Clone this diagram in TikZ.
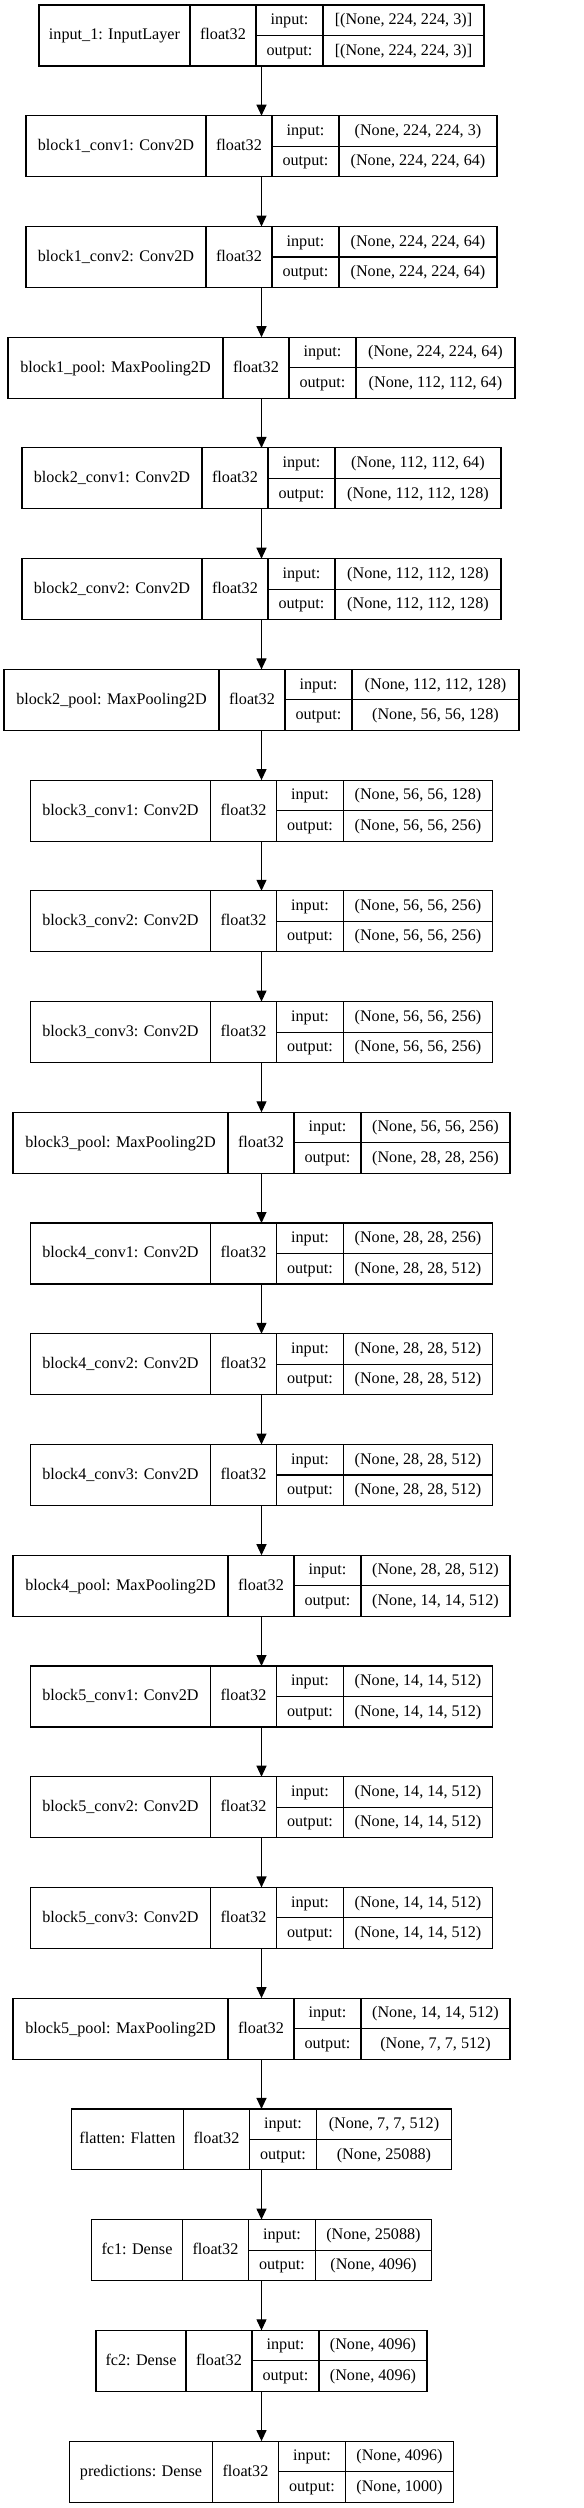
\documentclass[tikz,border=0pt]{standalone}
\usepackage{fontspec}
\setmainfont{Liberation Serif}
\usepackage{tikz}
\usepackage{tkz-graph}
\usetikzlibrary{positioning,arrows.meta}

\tikzset{
  layer/.style={rectangle, inner sep=0pt, outer sep=0pt, minimum height=1.22cm},
  cell/.style={draw, rectangle, line width=0.65pt, inner sep=0pt, outer sep=0pt,
    minimum height=0.61cm, text height=0.7em, text depth=0.2em,
    font=\fontsize{9.2pt}{11pt}\selectfont},
  EdgeStyle/.style={-{Triangle[length=0.22cm,width=0.2cm]}, line width=0.65pt}
}

% #1 node, #2 y, #3 label, #4 name width, #5 shape width, #6 input, #7 output
\newcommand{\Layer}[7]{%
  \node[layer, minimum width=(#4+133+#5)*0.02cm] (#1) at (261.5,#2) {};
  \node[cell, anchor=west, minimum width=#4*0.02cm, minimum height=1.22cm] (#1-n) at (#1.west) {#3};
  \node[cell, right=0pt of #1-n, minimum width=1.32cm, minimum height=1.22cm] (#1-t) {float32};
  \node[cell, anchor=north west, minimum width=1.34cm] (#1-i) at (#1-t.north east) {input:};
  \node[cell, below=0pt of #1-i, minimum width=1.34cm] (#1-o) {output:};
  \node[cell, right=0pt of #1-i, minimum width=#5*0.02cm] (#1-is) {#6};
  \node[cell, right=0pt of #1-o, minimum width=#5*0.02cm] (#1-os) {#7};
}

\begin{document}
\begin{tikzpicture}[x=0.02cm, y=-0.02cm]
    \useasboundingbox (0,0) rectangle (583,2508);

    \Layer{in1}{35.5}{input\_1: InputLayer}{151}{161}{[(None, 224, 224, 3)]}{[(None, 224, 224, 3)]}
    \Layer{c11}{146.2}{block1\_conv1: Conv2D}{180}{158}{(None, 224, 224, 3)}{(None, 224, 224, 64)}
    \Layer{c12}{257.0}{block1\_conv2: Conv2D}{180}{158}{(None, 224, 224, 64)}{(None, 224, 224, 64)}
    \Layer{p1}{367.7}{block1\_pool: MaxPooling2D}{215}{159}{(None, 224, 224, 64)}{(None, 112, 112, 64)}

    \Layer{c21}{478.4}{block2\_conv1: Conv2D}{180}{166}{(None, 112, 112, 64)}{(None, 112, 112, 128)}
    \Layer{c22}{589.2}{block2\_conv2: Conv2D}{180}{166}{(None, 112, 112, 128)}{(None, 112, 112, 128)}
    \Layer{p2}{699.9}{block2\_pool: MaxPooling2D}{215}{167}{(None, 112, 112, 128)}{(None, 56, 56, 128)}

    \Layer{c31}{810.6}{block3\_conv1: Conv2D}{180}{149}{(None, 56, 56, 128)}{(None, 56, 56, 256)}
    \Layer{c32}{921.3}{block3\_conv2: Conv2D}{180}{149}{(None, 56, 56, 256)}{(None, 56, 56, 256)}
    \Layer{c33}{1032.1}{block3\_conv3: Conv2D}{180}{149}{(None, 56, 56, 256)}{(None, 56, 56, 256)}
    \Layer{p3}{1142.8}{block3\_pool: MaxPooling2D}{215}{149}{(None, 56, 56, 256)}{(None, 28, 28, 256)}

    \Layer{c41}{1253.5}{block4\_conv1: Conv2D}{180}{149}{(None, 28, 28, 256)}{(None, 28, 28, 512)}
    \Layer{c42}{1364.3}{block4\_conv2: Conv2D}{180}{149}{(None, 28, 28, 512)}{(None, 28, 28, 512)}
    \Layer{c43}{1475.0}{block4\_conv3: Conv2D}{180}{149}{(None, 28, 28, 512)}{(None, 28, 28, 512)}
    \Layer{p4}{1585.7}{block4\_pool: MaxPooling2D}{215}{149}{(None, 28, 28, 512)}{(None, 14, 14, 512)}

    \Layer{c51}{1696.5}{block5\_conv1: Conv2D}{180}{149}{(None, 14, 14, 512)}{(None, 14, 14, 512)}
    \Layer{c52}{1807.2}{block5\_conv2: Conv2D}{180}{149}{(None, 14, 14, 512)}{(None, 14, 14, 512)}
    \Layer{c53}{1917.9}{block5\_conv3: Conv2D}{180}{149}{(None, 14, 14, 512)}{(None, 14, 14, 512)}
    \Layer{p5}{2028.6}{block5\_pool: MaxPooling2D}{215}{149}{(None, 14, 14, 512)}{(None, 7, 7, 512)}

    \Layer{flat}{2139.4}{flatten: Flatten}{112}{135}{(None, 7, 7, 512)}{(None, 25088)}
    \Layer{fc1}{2250.1}{fc1: Dense}{91}{116}{(None, 25088)}{(None, 4096)}
    \Layer{fc2}{2360.8}{fc2: Dense}{90}{108}{(None, 4096)}{(None, 4096)}
    \Layer{pred}{2471.6}{predictions: Dense}{143}{108}{(None, 4096)}{(None, 1000)}

    \Edges(in1, c11, c12, p1, c21, c22, p2, c31, c32, c33, p3, c41, c42, c43, p4, c51, c52, c53, p5, flat, fc1, fc2, pred)
\end{tikzpicture}
\end{document}
